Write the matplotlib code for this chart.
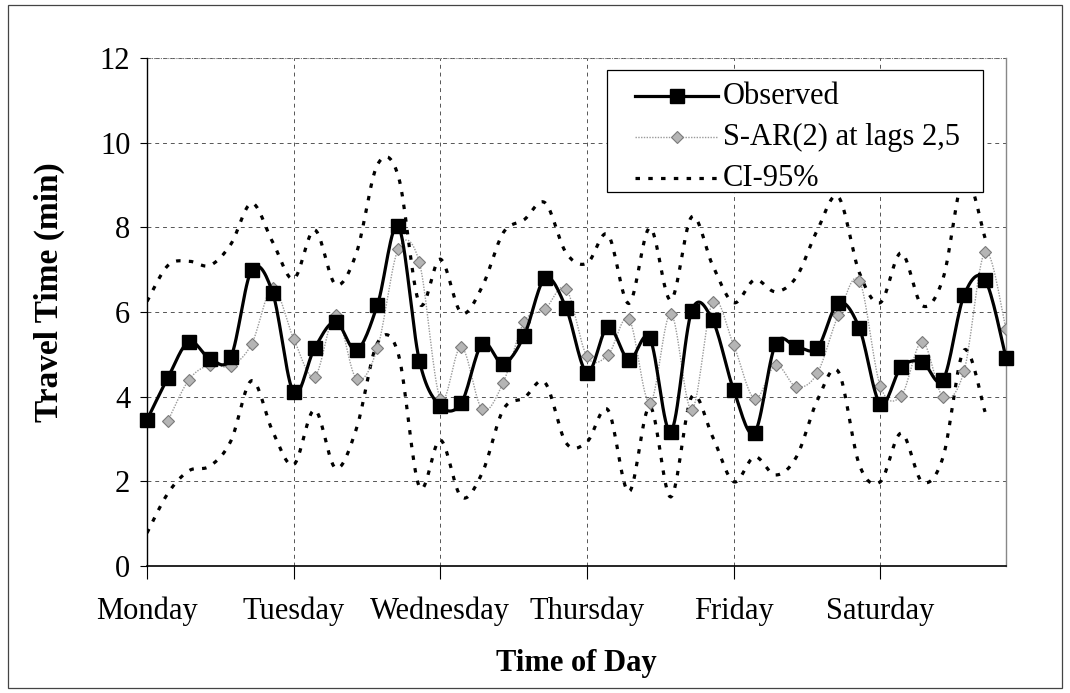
import numpy as np
import matplotlib
matplotlib.use("Agg")
import matplotlib.pyplot as plt
from matplotlib.lines import Line2D
from matplotlib.patches import Rectangle

plt.rcParams['font.family'] = ['Liberation Serif', 'DejaVu Serif']

# travel times, 7 intervals per day, Monday .. Sunday morning
day_labels = ['Monday', 'Tuesday', 'Wednesday', 'Thursday', 'Friday', 'Saturday']
day_ticks = [0, 7, 14, 21, 28, 35]

observed = [3.45, 4.45, 5.30, 4.90, 4.93, 7.00, 6.45, 4.10, 5.15, 5.77,
            5.10, 6.17, 8.02, 4.85, 3.78, 3.85, 5.25, 4.78, 5.44, 6.80,
            6.10, 4.57, 5.65, 4.87, 5.38, 3.17, 6.03, 5.80, 4.16, 3.15,
            5.24, 5.18, 5.15, 6.22, 5.62, 3.83, 4.70, 4.82, 4.40, 6.40,
            6.76, 4.92]

# model forecast starts one step later
sar_model = [3.43, 4.40, 4.75, 4.72, 5.25, 6.57, 5.37, 4.47, 5.93, 4.42,
             5.15, 7.50, 7.17, 3.95, 5.18, 3.70, 4.33, 5.77, 6.07, 6.55,
             4.95, 4.98, 5.84, 3.85, 5.96, 3.69, 6.24, 5.22, 3.95, 4.75,
             4.23, 4.56, 5.93, 6.74, 4.25, 4.02, 5.30, 3.99, 4.61, 7.42,
             5.60]

ci_upper = [6.25, 7.10, 7.20, 7.10, 7.60, 8.57, 7.65, 6.78, 7.94, 6.65,
            7.40, 9.48, 9.20, 6.20, 7.25, 5.98, 6.60, 7.87, 8.18, 8.58,
            7.40, 7.15, 7.83, 6.20, 7.99, 6.28, 8.25, 7.10, 6.22, 6.76,
            6.48, 6.83, 7.94, 8.72, 6.93, 6.22, 7.40, 6.15, 6.80, 9.20,
            7.75]

ci_lower = [0.78, 1.72, 2.25, 2.36, 2.95, 4.38, 3.18, 2.39, 3.69, 2.31,
            3.25, 5.27, 5.00, 1.87, 2.98, 1.63, 2.20, 3.69, 3.97, 4.33,
            2.91, 2.93, 3.69, 1.75, 3.77, 1.63, 4.00, 3.05, 1.99, 2.58,
            2.15, 2.58, 3.92, 4.59, 2.39, 1.99, 3.14, 1.99, 2.58, 5.10,
            3.64]

series_names = ['Observed', 'S-AR(2) at lags 2,5', 'CI-95%']


def smooth(x, y, n=16):
    # Bezier smoothing through every point (like a spreadsheet "smoothed line")
    x = np.asarray(x, float)
    y = np.asarray(y, float)
    px = np.concatenate([[x[0]], x, [x[-1]]])
    py = np.concatenate([[y[0]], y, [y[-1]]])
    xs, ys = [], []
    t = np.linspace(0, 1, n, endpoint=False)
    for i in range(1, len(px) - 2):
        p0 = np.array([px[i], py[i]])
        p3 = np.array([px[i + 1], py[i + 1]])
        p1 = p0 + (np.array([px[i + 1], py[i + 1]]) - np.array([px[i - 1], py[i - 1]])) / 6
        p2 = p3 - (np.array([px[i + 2], py[i + 2]]) - np.array([px[i], py[i]])) / 6
        b = ((1 - t) ** 3)[:, None] * p0 + (3 * (1 - t) ** 2 * t)[:, None] * p1 \
            + (3 * (1 - t) * t ** 2)[:, None] * p2 + (t ** 3)[:, None] * p3
        xs.extend(b[:, 0])
        ys.extend(b[:, 1])
    xs.append(x[-1])
    ys.append(y[-1])
    return np.array(xs), np.array(ys)


x_obs = np.arange(len(observed))
x_mod = np.arange(1, len(sar_model) + 1)
x_ci = np.arange(len(ci_upper))

W, H = 1070, 693
fig = plt.figure(figsize=(W / 100, H / 100), dpi=100)
ax = fig.add_axes([147 / W, 1 - 566 / H, (1006 - 147) / W, (566 - 58) / H])

obs_style = dict(color='black', lw=2.3)
obs_mark = dict(marker='s', ms=9.5, mfc='black', mec='black')
mod_style = dict(color='#9a9a9a', lw=1.0, linestyle=(0, (1, 1)))
mod_mark = dict(marker='D', ms=6.5, mfc='#b5b5b5', mec='#7a7a7a', mew=0.8)
ci_style = dict(color='black', lw=2.3, linestyle=(0, (1.4, 2.6)))

ax.plot(*smooth(x_ci, ci_upper), zorder=3, **ci_style)
ax.plot(*smooth(x_ci, ci_lower), zorder=3, **ci_style)

ax.plot(*smooth(x_mod, sar_model), zorder=4, **mod_style)
ax.plot(x_mod, sar_model, linestyle='none', zorder=5, **mod_mark)

ax.plot(*smooth(x_obs, observed), zorder=6, **obs_style)
ax.plot(x_obs, observed, linestyle='none', zorder=7, clip_on=False, **obs_mark)

ax.set_xlim(0, len(observed) - 1)
ax.set_ylim(0, 12)
ax.set_yticks(np.arange(0, 13, 2))
ax.set_xticks(day_ticks)
ax.set_xticklabels(day_labels)
ax.tick_params(axis='both', labelsize=22, direction='out', width=0.8)
ax.tick_params(axis='x', length=9, pad=13)
ax.tick_params(axis='y', length=5, pad=7)

ax.grid(True, color='#555555', lw=0.7, linestyle=(0, (4, 4)))
ax.set_axisbelow(True)
ax.spines['top'].set_visible(False)
ax.axhline(12, color='#777777', lw=0.8, linestyle=(0, (1, 1)), zorder=1)
ax.spines['right'].set_color('#888888')
ax.spines['right'].set_linewidth(1.0)
ax.spines['left'].set_linewidth(1.0)
ax.spines['bottom'].set_linewidth(1.2)

fig.text(576 / W, 1 - 663 / H, 'Time of Day', ha='center', va='center',
         fontsize=22, fontweight='bold')
fig.text(49 / W, 1 - 292 / H, 'Travel Time (min)', ha='center', va='center',
         rotation=90, fontsize=24, fontweight='bold')

# legend box drawn by hand so the padding can differ left/right vs top/bottom
fig.add_artist(Rectangle((607 / W, 1 - 192 / H), (983 - 607) / W, (192 - 70) / H,
                         transform=fig.transFigure, facecolor='white',
                         edgecolor='black', lw=0.9, zorder=10))
row_y = [96, 137, 178]
entry_styles = [(obs_style, obs_mark), (mod_style, mod_mark), (ci_style, None)]
for name, yy, (ls, mk) in zip(series_names, row_y, entry_styles):
    fy = 1 - yy / H
    fig.add_artist(Line2D([635 / W, 718 / W], [fy, fy], transform=fig.transFigure,
                          zorder=11, **ls))
    if mk is not None:
        fig.add_artist(Line2D([676.5 / W], [fy], transform=fig.transFigure,
                              linestyle='none', zorder=12, **mk))
    fig.text(723 / W, fy, name, ha='left', va='center', fontsize=22, zorder=12)

# chart border
fig.add_artist(Rectangle((8 / W, 5 / H), 1054 / W, 683 / H,
                         transform=fig.transFigure, fill=False,
                         edgecolor='#444444', lw=0.9))

fig.savefig('out.png', dpi=100)
